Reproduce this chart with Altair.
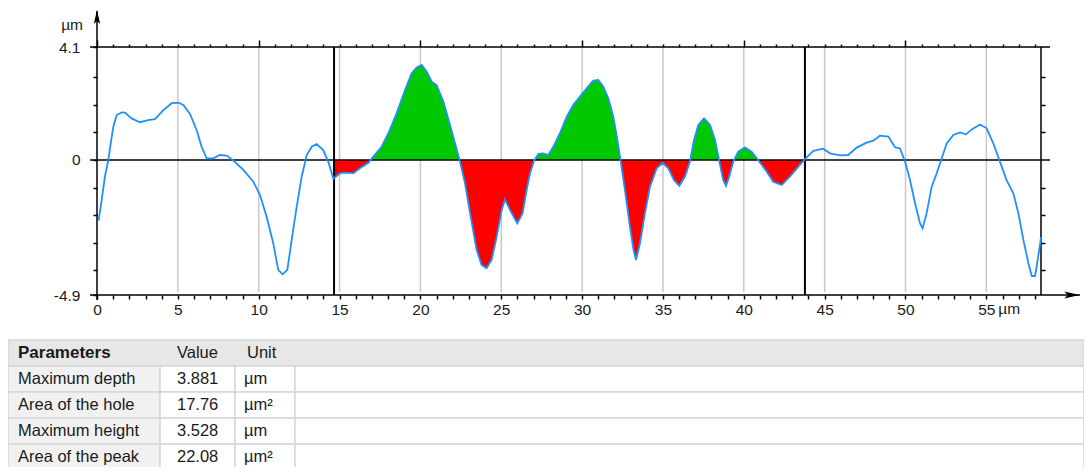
import altair as alt
import pandas as pd

# ---------------- data ----------------
profile_x = [0.1, 0.3, 0.49, 0.7, 0.85, 1.01, 1.22, 1.53, 1.73, 2.14, 2.66, 3.17, 3.59, 4.1, 4.62,
             5.03, 5.34, 5.75, 6.16, 6.47, 6.78, 7.19, 7.6, 8.02, 8.43, 9.05, 9.67, 10.08, 10.49,
             10.9, 11.21, 11.48, 11.77, 12.04, 12.35, 12.66, 12.97, 13.28, 13.58, 13.99, 14.3,
             14.62, 15.03, 15.34, 15.86, 16.26, 16.78, 17.09, 17.6, 18.02, 18.53, 19.05, 19.46,
             19.77, 20.08, 20.39, 20.7, 21.0, 21.42, 21.83, 22.14, 22.45, 22.76, 23.07, 23.48,
             23.78, 24.09, 24.4, 24.72, 25.03, 25.23, 25.54, 25.99, 26.32, 26.57, 26.78, 27.03,
             27.3, 27.6, 27.91, 28.22, 28.63, 29.05, 29.46, 29.87, 30.28, 30.69, 31.0, 31.31,
             31.62, 31.93, 32.18, 32.39, 32.65, 32.96, 33.16, 33.33, 33.58, 33.89, 34.2, 34.61,
             34.98, 35.33, 35.68, 36.01, 36.36, 36.67, 36.92, 37.19, 37.54, 37.91, 38.22, 38.49,
             38.73, 38.9, 39.1, 39.35, 39.66, 40.07, 40.48, 40.89, 41.41, 41.82, 42.34, 42.86,
             43.37, 43.78, 44.3, 44.91, 45.33, 45.95, 46.46, 46.98, 47.6, 48.01, 48.42, 48.94,
             49.35, 49.66, 49.97, 50.28, 50.59, 50.9, 51.06, 51.31, 51.62, 51.93, 52.24, 52.55,
             52.96, 53.37, 53.74, 54.1, 54.61, 55.02, 55.43, 55.84, 56.25, 56.67, 56.98, 57.29,
             57.6, 57.81, 58.01, 58.16, 58.33, 58.38]
profile_z = [-2.2, -1.4, -0.6, 0.0, 0.6, 1.21, 1.63, 1.73, 1.72, 1.51, 1.37, 1.45, 1.48, 1.81, 2.06,
             2.08, 2.0, 1.67, 1.09, 0.48, 0.06, 0.06, 0.18, 0.16, -0.02, -0.36, -0.79, -1.27, -2.06,
             -3.02, -3.99, -4.15, -3.99, -2.9, -1.69, -0.6, 0.18, 0.48, 0.58, 0.36, -0.06,
             -0.68, -0.48, -0.46, -0.48, -0.3, -0.1, 0.12, 0.48, 0.97, 1.69, 2.54, 3.15,
             3.36, 3.45, 3.2, 2.84, 2.72, 2.12, 1.27, 0.61, -0.06, -0.85, -1.93, -3.27,
             -3.81, -3.93, -3.63, -2.78, -1.81, -1.43, -1.81, -2.3, -1.93, -1.09, -0.48, -0.02,
             0.22, 0.24, 0.18, 0.48, 0.97, 1.57, 2.0, 2.3, 2.6, 2.88, 2.9, 2.66,
             2.24, 1.57, 0.73, -0.06, -1.09, -2.42, -3.2, -3.63, -3.02, -1.93, -0.97, -0.3,
             -0.1, -0.3, -0.73, -0.94, -0.6, -0.06, 0.73, 1.27, 1.51, 1.27, 0.73, -0.06,
             -0.73, -0.94, -0.6, -0.06, 0.3, 0.46, 0.3, 0.0, -0.42, -0.79, -0.91, -0.6,
             -0.24, 0.03, 0.33, 0.41, 0.24, 0.17, 0.18, 0.45, 0.63, 0.7, 0.88, 0.85,
             0.46, 0.42, -0.06, -0.73, -1.57, -2.3, -2.48, -1.93, -0.97, -0.48, 0.06, 0.6,
             0.91, 1.0, 0.93, 1.11, 1.29, 1.15, 0.6, -0.06, -0.73, -1.21, -1.93, -2.9,
             -3.75, -4.21, -4.21, -3.69, -3.02, -2.8]

cursor_left = 14.66
cursor_right = 43.78
x_end = 58.38
z_top = 4.1
z_bottom = -4.9
x_minor_ticks = list(range(0, 59))
x_label_ticks = [0, 5, 10, 15, 20, 25, 30, 35, 40, 45, 50, 55]
y_minor_ticks = [3, 2, 1, -1, -2, -3, -4]
y_label_ticks = [4.1, 0, -4.9]
unit_label = "µm"

table_header = ["Parameters", "Value", "Unit"]
param_names = ["Maximum depth", "Area of the hole", "Maximum height", "Area of the peak"]
param_values = ["3.881", "17.76", "3.528", "22.08"]
param_units = ["µm", "µm²", "µm", "µm²"]

# ---------------- layout / style ----------------
W, H = 944, 248
PAD = {"left": 89, "top": 39, "right": 43, "bottom": 172}
FONT = "Liberation Sans"
TXT = "#1a1a1a"
LINE_BLUE = "#1E90FF"
GREEN = "#00C800"
RED = "#FF0000"

df_profile = pd.DataFrame({"x": profile_x, "z": profile_z})

# fill between the two cursors, split at zero crossings
def interp(xa, xb, za, zb, xv):
    return za + (zb - za) * (xv - xa) / (xb - xa)

fill_pts = []
for i in range(len(profile_x) - 1):
    xa, xb = profile_x[i], profile_x[i + 1]
    za, zb = profile_z[i], profile_z[i + 1]
    if xb < cursor_left or xa > cursor_right:
        continue
    lo, hi = max(xa, cursor_left), min(xb, cursor_right)
    zlo, zhi = interp(xa, xb, za, zb, lo), interp(xa, xb, za, zb, hi)
    if not fill_pts:
        fill_pts.append((lo, zlo))
    if zlo * zhi < 0:
        fill_pts.append((lo + (hi - lo) * zlo / (zlo - zhi), 0.0))
    fill_pts.append((hi, zhi))
df_fill = pd.DataFrame({
    "x": [p[0] for p in fill_pts],
    "pos": [max(p[1], 0.0) for p in fill_pts],
    "neg": [min(p[1], 0.0) for p in fill_pts],
    "zero": [0.0] * len(fill_pts),
})

xs = alt.Scale(domain=[0, x_end], nice=False, zero=False)
ys = alt.Scale(domain=[z_bottom, z_top], nice=False, zero=False)
one = pd.DataFrame({"a": [0]})

# grid lines
grid = alt.Chart(pd.DataFrame({"x": x_label_ticks[1:]})).mark_rule(
    color="#c9c9c9", strokeWidth=1.5
).encode(x=alt.X("x:Q", scale=xs, axis=None), y=alt.value(0), y2=alt.value(H - 3))

green = alt.Chart(df_fill).mark_area(color=GREEN, opacity=1, interpolate="linear").encode(
    x=alt.X("x:Q", scale=xs, axis=None), y=alt.Y("pos:Q", scale=ys, axis=None), y2="zero:Q")
red = alt.Chart(df_fill).mark_area(color=RED, opacity=1, interpolate="linear").encode(
    x=alt.X("x:Q", scale=xs, axis=None), y=alt.Y("neg:Q", scale=ys, axis=None), y2="zero:Q")

# invisible layer carrying top and right axes
top_right = alt.Chart(df_profile).mark_line(opacity=0).encode(
    x=alt.X("x:Q", scale=xs, axis=alt.Axis(
        orient="top", values=x_minor_ticks, labels=False, domain=False, grid=False, title=None,
        tickSize={"condition": {"test": "datum.value % 10 === 0", "value": 7}, "value": 3},
        tickColor="black", tickWidth=1.5)),
    y=alt.Y("z:Q", scale=ys, axis=alt.Axis(
        orient="right", values=y_minor_ticks, labels=False, domain=False, grid=False, title=None,
        tickSize=4, tickColor="black", tickWidth=1.5)),
)

def hline(zval, x0, x1, w=1.5):
    return alt.Chart(one).mark_rule(color="black", strokeWidth=w).encode(
        y=alt.YDatum(zval, scale=ys, axis=None), x=alt.value(x0), x2=alt.value(x1))

def vline_px(xpx, y0, y1, w=1.5):
    return alt.Chart(one).mark_rule(color="black", strokeWidth=w).encode(
        x=alt.value(xpx), y=alt.value(y0), y2=alt.value(y1))

def vline_data(xval, w=2):
    return alt.Chart(one).mark_rule(color="black", strokeWidth=w).encode(
        x=alt.XDatum(xval, scale=xs, axis=None), y=alt.value(0), y2=alt.value(H))

frame = [
    hline(z_top, -7, W + 9),
    hline(0, -7, W + 9),
    hline(z_bottom, -7, W + 39),
    vline_px(0, -36, H + 5),
    vline_px(W, 0, H),
    vline_data(cursor_left),
    vline_data(cursor_right),
]

arrow_up = alt.Chart(one).mark_point(
    shape="M0,-1L0.45,1L0,0.55L-0.45,1Z", filled=True, color="black", size=200, opacity=1
).encode(x=alt.value(0), y=alt.value(-30))
arrow_right = alt.Chart(one).mark_point(
    shape="M1,0L-1,-0.45L-0.55,0L-1,0.45Z", filled=True, color="black", size=240, opacity=1
).encode(x=alt.value(W + 31), y=alt.value(H))

label_expr_x = "indexof(%s, datum.value) >= 0 ? '' + datum.value : ''" % str(x_label_ticks)
label_expr_y = "indexof(%s, datum.value) >= 0 ? '' + datum.value : ''" % str(y_label_ticks)

profile = alt.Chart(df_profile).mark_line(color=LINE_BLUE, strokeWidth=1.8).encode(
    x=alt.X("x:Q", scale=xs, axis=alt.Axis(
        orient="bottom", values=x_minor_ticks, labelExpr=label_expr_x, domain=False, grid=False,
        title=None, tickSize=4, tickColor="black", tickWidth=1.5, labelFlush=False,
        labelOverlap=False, labelPadding=3, labelBound=False)),
    y=alt.Y("z:Q", scale=ys, axis=alt.Axis(
        orient="left", values=y_label_ticks + y_minor_ticks, labelExpr=label_expr_y, domain=False,
        grid=False, title=None, tickSize=4, tickColor="black", tickWidth=1.5, labelPadding=13,
        labelOverlap=False, labelFlush=False, labelBound=False)),
    order="x:Q",
)

unit_y = alt.Chart(one).mark_text(font=FONT, fontSize=15.5, color=TXT, align="right",
                                  baseline="middle", text=unit_label).encode(
    x=alt.value(-14), y=alt.value(-22))
unit_x = alt.Chart(one).mark_text(font=FONT, fontSize=15.5, color=TXT, align="left",
                                  baseline="top", dx=12, text=unit_label).encode(
    x=alt.XDatum(x_label_ticks[-1], scale=xs, axis=None), y=alt.value(H + 7))

# ---------------- table (pixel layout, scale=None) ----------------
col_edges = [-89, 63, 138, 198, 987]
row_edges = [293, 319, 345, 371, 397, 423]
cells = [{"x0": col_edges[0], "x1": col_edges[-1], "y0": row_edges[0], "y1": row_edges[1],
          "fill": "#e7e7e7"}]
for r in range(len(param_names)):
    for c in range(4):
        cells.append({"x0": col_edges[c], "x1": col_edges[c + 1], "y0": row_edges[r + 1],
                      "y1": row_edges[r + 2], "fill": "#f1f1f1" if c == 0 else "white"})
df_cells = pd.DataFrame(cells)
cell_rects = alt.Chart(df_cells).mark_rect(stroke="#d6d6d6", strokeWidth=1.5).encode(
    x=alt.X("x0:Q", scale=None), x2="x1:Q", y=alt.Y("y0:Q", scale=None), y2="y1:Q",
    fill=alt.Fill("fill:N", scale=None))

text_x = [-79, 80, 150]
head_rows = [{"t": table_header[0], "x": text_x[0], "y": (row_edges[0] + row_edges[1]) / 2}]
norm_rows = [{"t": table_header[1], "x": text_x[1], "y": (row_edges[0] + row_edges[1]) / 2},
             {"t": table_header[2], "x": text_x[2], "y": (row_edges[0] + row_edges[1]) / 2}]
for r in range(len(param_names)):
    yc = (row_edges[r + 1] + row_edges[r + 2]) / 2
    norm_rows.append({"t": param_names[r], "x": text_x[0], "y": yc})
    norm_rows.append({"t": param_values[r], "x": text_x[1], "y": yc})
    norm_rows.append({"t": param_units[r], "x": text_x[2] - 3, "y": yc})
head_text = alt.Chart(pd.DataFrame(head_rows)).mark_text(
    font=FONT, fontSize=17, fontWeight="bold", color=TXT, align="left", baseline="middle"
).encode(x=alt.X("x:Q", scale=None), y=alt.Y("y:Q", scale=None), text="t:N")
body_text = alt.Chart(pd.DataFrame(norm_rows)).mark_text(
    font=FONT, fontSize=16.5, color=TXT, align="left", baseline="middle"
).encode(x=alt.X("x:Q", scale=None), y=alt.Y("y:Q", scale=None), text="t:N")

chart = alt.layer(
    grid, green, red, top_right, *frame, arrow_up, arrow_right, profile, unit_y, unit_x,
    cell_rects, head_text, body_text
).resolve_axis(x="independent", y="independent").properties(
    width=W, height=H, padding=PAD, autosize=alt.AutoSizeParams(type="none"),
    background="white"
).configure_view(stroke=None).configure_axis(
    labelFont=FONT, labelFontSize=15.5, labelColor=TXT
)

chart.save("out.html", embed_options={"renderer": "svg", "actions": False})
